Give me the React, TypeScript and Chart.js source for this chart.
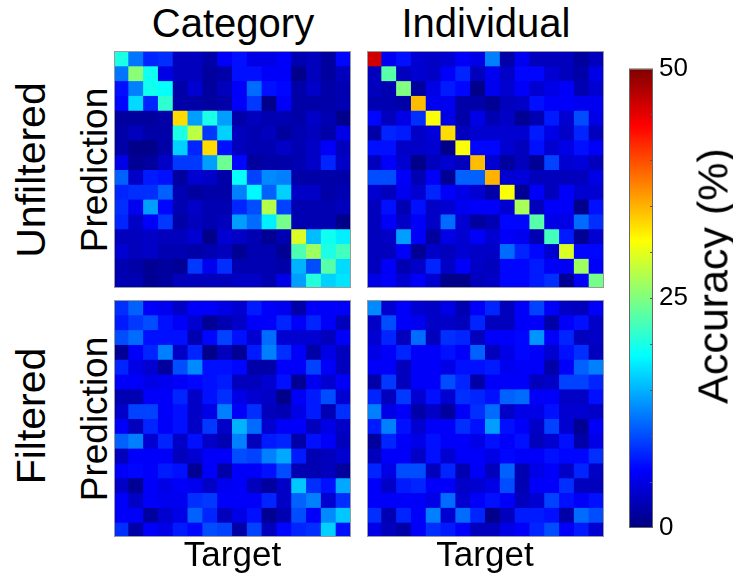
import React, { useEffect, useRef } from "react";
import { Chart, registerables } from "chart.js";

Chart.register(...registerables);
Chart.defaults.font.family = "'Liberation Sans', Arial, sans-serif";

// Accuracy range of the colour scale (%)
const ACC_MIN = 0;
const ACC_MAX = 50;
const colorbarTicks = [0, 25, 50];
const colorbarMinorStep = 5;

// 16 classes on both axes of every confusion matrix
const classLabels = [
  "1", "2", "3", "4", "5", "6", "7", "8",
  "9", "10", "11", "12", "13", "14", "15", "16",
];

// Rows = prediction, columns = target, values = accuracy (%)
const categoryUnfiltered = [
  [20, 12, 8, 8.5, 3, 3, 2, 6, 7, 5, 5, 6, 2.5, 3, 1.5, 6.5],
  [12, 25.5, 19.5, 5, 3, 3, 1.5, 2, 7, 7, 6, 6, 0.5, 3, 1.5, 3],
  [7, 12.5, 19.5, 19, 2, 4, 1.5, 3, 6, 11.5, 7, 6.5, 2, 3.5, 2, 2.5],
  [6.5, 17, 8, 21, 2, 2, 1.5, 2, 6, 9, 0.5, 6, 2, 2, 2, 2.5],
  [1.5, 1.5, 1.5, 2, 33, 14, 20, 14, 2, 3, 2.5, 2.5, 2, 3.5, 2.5, 0.5],
  [2, 3, 2, 2, 20, 28, 9, 16.5, 3, 2.5, 3, 1.5, 2.5, 3, 2, 5],
  [2, 0.5, 0.5, 2, 16.5, 8, 33, 7, 3, 2.5, 2.5, 3.5, 2.5, 3.5, 6, 3],
  [5, 1, 1.5, 3.5, 9, 9, 14, 24, 6.5, 1.5, 2, 2, 2.5, 3.5, 8, 3.5],
  [11, 3.5, 7.5, 7, 1.5, 4, 3.5, 2, 19, 9.5, 13, 12.5, 2, 2, 2, 2],
  [8, 8.5, 8.5, 11, 2.5, 1.5, 2, 2, 12.5, 18.5, 11, 16.5, 3.5, 3.5, 2, 2.5],
  [8.5, 5.5, 14, 6.5, 2.5, 3.5, 2.5, 2.5, 8, 10, 27.5, 9.5, 2.5, 2.5, 2.5, 3],
  [8, 3.5, 6, 9, 2, 3, 2.5, 3, 14, 11.5, 18, 24.5, 2.5, 2.5, 2.5, 0.5],
  [3, 3, 3.5, 3, 3, 4, 0.5, 4, 3.5, 2.5, 1, 2.5, 29.5, 15.5, 19.5, 18],
  [4, 3, 3.5, 2.5, 2.5, 2, 2.5, 3, 1, 2.5, 2.5, 1, 22.5, 26.5, 20, 22],
  [2.5, 2, 1, 1.5, 1, 9, 5.5, 8.5, 2.5, 2.5, 2.5, 2, 15, 10, 23, 17],
  [2.5, 2.5, 1, 1.5, 3, 3, 3, 3, 3.5, 3.5, 2.5, 5, 14, 20.5, 16.5, 17.5],
];

const individualUnfiltered = [
  [46, 5.5, 7, 4, 3.5, 4, 6, 5, 12.5, 2, 5.5, 3, 3, 3, 1.5, 3],
  [3, 23, 3, 4, 3.5, 6, 8, 3, 5.5, 3.5, 6.5, 6.5, 4, 3, 2, 5],
  [3, 2.5, 25, 1.5, 5, 7.5, 6.5, 0.5, 5.5, 4, 6, 4, 5, 6, 2.5, 4],
  [2.5, 2.5, 2, 34.5, 5.5, 5.5, 2, 2, 1, 3, 3.5, 7, 6, 6, 5.5, 5.5],
  [6.5, 3, 5, 8.5, 31, 5, 2, 5, 2.5, 3.5, 1, 2.5, 7.5, 4, 10, 5],
  [2, 8, 7.5, 3.5, 4.5, 33, 3, 4, 4, 4, 4, 7.5, 5, 3.5, 8, 3],
  [7, 7, 3.5, 3.5, 4, 0.5, 31, 6.5, 6.5, 4, 3, 7, 4, 5, 7, 6],
  [3, 6, 4, 0.5, 3, 4, 3, 34.5, 4, 1.5, 3, 1, 9.5, 4, 4.5, 3],
  [10, 10, 6, 2.5, 6, 1, 11, 11, 35, 4, 4.5, 3, 3, 3, 3, 5],
  [4, 3, 5.5, 4, 8, 6, 5, 4, 2, 31, 1, 6, 3, 6, 4, 4],
  [3, 7, 2.5, 7, 3.5, 4, 5.5, 6, 6, 4, 27, 3, 6, 6, 0.5, 7],
  [3, 6, 3.5, 6, 3.5, 11.5, 4, 1.5, 2.5, 6.5, 6.5, 23, 5, 5, 11.5, 8.5],
  [3, 3.5, 14, 6, 1.5, 5, 4, 6, 4, 6, 5.5, 2.5, 22, 7.5, 1, 4],
  [3, 3, 6, 1, 3.5, 3, 4, 3.5, 3.5, 11.5, 8, 6.5, 4, 29.5, 6.5, 6.5],
  [3, 6, 2.5, 3.5, 8, 3.5, 6, 3.5, 3, 6.5, 6.5, 7.5, 6, 6, 26.5, 6],
  [5, 6, 4, 6, 4, 0.5, 0.5, 3, 3.5, 6.5, 6.5, 7.5, 8.5, 1, 6, 24.5],
];

const categoryFiltered = [
  [8.5, 11, 6, 5.5, 3.5, 6, 6, 5, 4, 7.5, 6, 5.5, 2, 6, 6, 6],
  [7.5, 9, 10, 7, 6, 4, 1, 2.5, 3.5, 6, 6, 8, 6, 8, 6, 3],
  [10, 11.5, 7, 7, 7, 2.5, 6.5, 9.5, 7, 4, 11.5, 4, 4, 4, 3, 6],
  [1, 6, 8, 12.5, 3.5, 8, 0.5, 3, 1, 7.5, 12.5, 8.5, 6, 2, 5, 3],
  [8, 5, 4, 1.5, 10, 13, 7, 7, 6.5, 2, 2, 6, 6, 9.5, 6, 3],
  [6, 6, 5, 5.5, 6, 6.5, 7, 7.5, 3, 3, 4, 7, 1, 5.5, 4, 6],
  [2.5, 2.5, 6, 6, 8, 3.5, 7, 8.5, 5, 4, 3.5, 0.5, 6, 7.5, 10, 4],
  [3.5, 9.5, 9.5, 6, 7, 3.5, 5, 12.5, 6, 8.5, 3, 2.5, 5, 7.5, 2.5, 8.5],
  [6, 3, 8, 6, 7, 3.5, 9, 3.5, 15, 11.5, 4, 6, 6, 3, 5, 3.5],
  [11, 12.5, 4, 8, 3.5, 7, 3.5, 2.5, 12.5, 3, 7.5, 8, 2, 7, 6, 3],
  [3, 6, 6, 6, 3, 4, 6, 6, 10, 9.5, 12.5, 14.5, 7.5, 2.5, 3, 4],
  [6, 6.5, 6, 7.5, 7, 1, 6, 2, 6, 6, 7, 10, 2.5, 2.5, 3, 1.5],
  [3.5, 1, 6, 5, 6, 5.5, 3.5, 5.5, 6, 3, 1.5, 3.5, 16, 8.5, 7, 14.5],
  [6, 3.5, 6, 5.5, 5.5, 8.5, 9, 6, 6, 6, 8, 3.5, 11, 12.5, 4, 8.5],
  [6, 6, 1.5, 4, 5, 11, 8, 3, 5, 7, 1, 2.5, 10, 6, 13, 16],
  [8.5, 2, 6, 5, 7.5, 6.5, 10, 9.5, 2, 9.5, 3, 6.5, 8, 8.5, 16.5, 7],
];

const individualFiltered = [
  [13, 4, 6, 4, 3.5, 5, 2.5, 6, 8, 3, 6, 9.5, 6, 3.5, 3, 6],
  [3.5, 10, 6, 5.5, 3.5, 3.5, 3, 8, 3, 3, 6, 6, 2, 6, 7, 3.5],
  [4, 8, 3, 11.5, 3, 8.5, 8, 3, 6, 6, 6.5, 13.5, 6, 8, 3, 3.5],
  [5, 6, 8, 6, 6, 7, 6, 11, 3, 5, 6.5, 6, 4, 7, 8.5, 3],
  [6, 6, 3, 6, 6, 5, 7, 7, 7.5, 5.5, 6, 6, 2, 6, 11, 12.5],
  [2, 9, 3, 6, 6, 10, 8, 2, 6, 6, 6, 3, 3.5, 9.5, 9.5, 8],
  [8, 3, 9, 4, 7, 4, 8.5, 8, 7, 11, 11.5, 6, 6, 3.5, 3.5, 7],
  [12.5, 5, 6, 2, 3.5, 1.5, 6, 8.5, 11.5, 3.5, 5, 5, 7, 4, 4, 3.5],
  [7.5, 12.5, 7, 4, 6, 6, 8.5, 7, 14, 7, 6, 3.5, 9.5, 4, 1, 6],
  [1.5, 8, 6, 5, 7, 6, 6, 5, 7, 6, 7, 3, 4, 7, 2, 5],
  [3, 6, 6, 3.5, 7, 4, 6, 6, 5, 6.5, 6, 6, 7, 6.5, 6.5, 8.5],
  [8, 5, 10, 10, 3, 8, 2.5, 6, 3, 11, 2.5, 5, 6, 3.5, 8, 3.5],
  [6, 3.5, 7.5, 8, 6, 6, 3.5, 4, 5, 10, 2.5, 6, 6, 8.5, 3, 3],
  [6, 6, 6, 6, 5, 11.5, 4, 6, 7, 6, 3, 4, 9.5, 7, 6, 7],
  [8.5, 2.5, 8, 6, 12.5, 4, 11.5, 8, 0.5, 3, 7.5, 7.5, 7, 2, 11.5, 10],
  [5, 3, 2, 6, 8.5, 7.5, 6, 3, 3, 5, 6, 8, 10, 6, 7.5, 4],
];

const FONT = "'Liberation Sans', Arial, sans-serif";

// Piecewise-linear "jet" colour map
const clamp01 = (v: number) => Math.max(0, Math.min(1, v));
function jetColor(value: number): string {
  const t = clamp01((value - ACC_MIN) / (ACC_MAX - ACC_MIN));
  const r = clamp01(1.5 - Math.abs(4 * t - 3));
  const g = clamp01(1.5 - Math.abs(4 * t - 2));
  const b = clamp01(1.5 - Math.abs(4 * t - 1));
  return `rgb(${Math.round(r * 255)},${Math.round(g * 255)},${Math.round(b * 255)})`;
}
const jetStops: [number, string][] = [
  [0, "rgb(0,0,128)"],
  [0.125, "rgb(0,0,255)"],
  [0.375, "rgb(0,255,255)"],
  [0.625, "rgb(255,255,0)"],
  [0.875, "rgb(255,0,0)"],
  [1, "rgb(128,0,0)"],
];

type HeatmapProps = { matrix: number[][]; left: number; top: number; size: number };

// One confusion matrix: each prediction row is a dataset of floating bars
function Heatmap({ matrix, left, top, size }: HeatmapProps) {
  const ref = useRef<HTMLCanvasElement>(null);
  useEffect(() => {
    const chart = new Chart(ref.current!, {
      type: "bar",
      data: {
        labels: classLabels,
        datasets: matrix.map((row, r) => ({
          label: `Prediction ${r + 1}`,
          data: row.map(() => [r, r + 1] as [number, number]),
          backgroundColor: row.map(jetColor),
          borderWidth: 0,
          barPercentage: 1,
          categoryPercentage: 1,
          grouped: false,
          inflateAmount: 0.5,
        })),
      },
      options: {
        responsive: false,
        animation: false,
        events: [],
        layout: { padding: 0 },
        plugins: { legend: { display: false }, tooltip: { enabled: false } },
        scales: {
          x: { display: false, offset: true },
          y: { display: false, min: 0, max: matrix.length, reverse: true },
        },
      },
    } as any);
    return () => chart.destroy();
  }, [matrix]);
  return (
    <div style={{ position: "absolute", left, top, width: size, height: size }}>
      <canvas ref={ref} width={size} height={size} style={{ display: "block", width: size, height: size }} />
      <div
        style={{
          position: "absolute",
          inset: 0,
          border: "1px solid #9a9a9a",
          boxSizing: "border-box",
          pointerEvents: "none",
        }}
      />
    </div>
  );
}

// Frame and small inner tick marks of the colour bar
const colorbarFrame = {
  id: "colorbarFrame",
  afterDatasetsDraw(chart: any) {
    const { ctx, chartArea } = chart;
    const y = chart.scales.y;
    ctx.save();
    ctx.strokeStyle = "#555";
    ctx.lineWidth = 1;
    for (let v = ACC_MIN + colorbarMinorStep; v < ACC_MAX; v += colorbarMinorStep) {
      const py = Math.round(y.getPixelForValue(v)) + 0.5;
      ctx.beginPath();
      ctx.moveTo(chartArea.right - 3, py);
      ctx.lineTo(chartArea.right, py);
      ctx.stroke();
    }
    ctx.strokeStyle = "#666";
    ctx.strokeRect(
      Math.round(chartArea.left) + 0.5,
      Math.round(chartArea.top) + 0.5,
      Math.round(chartArea.right - chartArea.left) - 1,
      Math.round(chartArea.bottom - chartArea.top) - 1
    );
    ctx.restore();
  },
};

// Colour bar; the scale reserves half a label height plus tick padding above and below
function Colorbar({ left, top, width, height }: { left: number; top: number; width: number; height: number }) {
  const ref = useRef<HTMLCanvasElement>(null);
  useEffect(() => {
    const chart = new Chart(ref.current!, {
      type: "bar",
      data: {
        labels: ["Accuracy"],
        datasets: [
          {
            data: [[ACC_MIN, ACC_MAX]],
            backgroundColor: (c: any) => {
              const area = c.chart.chartArea;
              if (!area) return jetColor(ACC_MIN);
              const g = c.chart.ctx.createLinearGradient(0, area.bottom, 0, area.top);
              jetStops.forEach(([t, col]) => g.addColorStop(t, col));
              return g;
            },
            borderWidth: 0,
            barPercentage: 1,
            categoryPercentage: 1,
          },
        ],
      },
      options: {
        responsive: false,
        animation: false,
        events: [],
        layout: { padding: 0 },
        plugins: { legend: { display: false }, tooltip: { enabled: false } },
        scales: {
          x: { display: false, offset: true },
          y: {
            position: "right",
            min: ACC_MIN,
            max: ACC_MAX,
            afterBuildTicks: (s: any) => {
              s.ticks = colorbarTicks.map((v) => ({ value: v }));
            },
            afterFit: (s: any) => {
              s.width = width - 24;
            },
            grid: { display: false, drawTicks: false },
            border: { display: false },
            ticks: {
              color: "#000",
              padding: 6,
              font: { family: FONT, size: 26 },
            },
          },
        },
      },
      plugins: [colorbarFrame],
    } as any);
    return () => chart.destroy();
  }, [left, top, width, height]);
  return (
    <canvas
      ref={ref}
      width={width}
      height={height}
      style={{ position: "absolute", left, top, width, height }}
    />
  );
}

// Horizontal text placed by its centre x and baseline y
function HText({ text, x, baseline, size }: { text: string; x: number; baseline: number; size: number }) {
  return (
    <div
      style={{
        position: "absolute",
        left: x,
        top: baseline - 0.8465 * size,
        transform: "translateX(-50%)",
        fontSize: size,
        lineHeight: `${size}px`,
        whiteSpace: "nowrap",
      }}
    >
      {text}
    </div>
  );
}

// Text rotated to read bottom-to-top, placed by its centre
function VText({ text, cx, cy, size }: { text: string; cx: number; cy: number; size: number }) {
  return (
    <div
      style={{
        position: "absolute",
        left: cx,
        top: cy,
        transform: "translate(-50%, -50%) rotate(-90deg)",
        fontSize: size,
        lineHeight: `${size}px`,
        whiteSpace: "nowrap",
      }}
    >
      {text}
    </div>
  );
}

export default function App() {
  return (
    <div
      style={{
        position: "absolute",
        left: 0,
        top: 0,
        width: 733,
        height: 575,
        background: "#fff",
        color: "#000",
        fontFamily: FONT,
        overflow: "hidden",
      }}
    >
      <HText text="Category" x={233} baseline={36.5} size={40} />
      <HText text="Individual" x={486} baseline={36.5} size={40} />

      <VText text="Unfiltered" cx={31.3} cy={169.5} size={41} />
      <VText text="Filtered" cx={31.3} cy={415.5} size={41} />
      <VText text="Prediction" cx={93.7} cy={169.5} size={37} />
      <VText text="Prediction" cx={93.7} cy={418.5} size={37} />

      <Heatmap matrix={categoryUnfiltered} left={114} top={51} size={237} />
      <Heatmap matrix={individualUnfiltered} left={367} top={51} size={237} />
      <Heatmap matrix={categoryFiltered} left={114} top={300} size={237} />
      <Heatmap matrix={individualFiltered} left={367} top={300} size={237} />

      <HText text="Target" x={232.5} baseline={566} size={35} />
      <HText text="Target" x={485} baseline={566} size={35} />

      <Colorbar left={629} top={47} width={74} height={502} />
      <VText text="Accuracy (%)" cx={713} cy={276} size={43} />
    </div>
  );
}
